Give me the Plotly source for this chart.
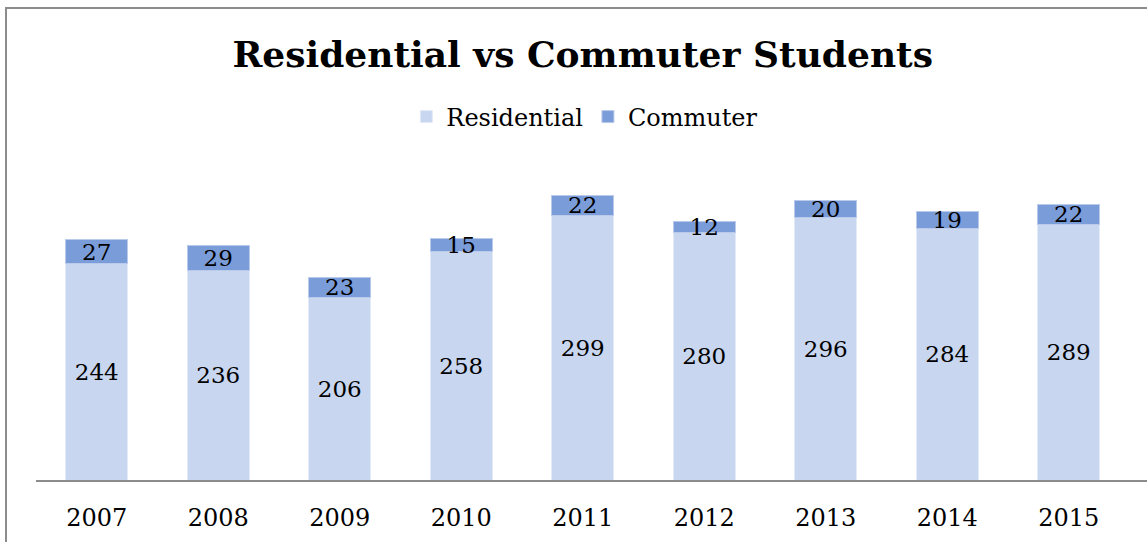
import plotly.graph_objects as go

years = ["2007", "2008", "2009", "2010", "2011", "2012", "2013", "2014", "2015"]
residential = [244, 236, 206, 258, 299, 280, 296, 284, 289]
commuter = [27, 29, 23, 15, 22, 12, 20, 19, 22]

FONT = "DejaVu Serif"

fig = go.Figure()
fig.add_trace(go.Bar(
    x=years, y=residential, name="Residential",
    marker=dict(color="#C8D6EF", line=dict(color="#E4EBF8", width=1)),
    text=[str(v) for v in residential], textposition="inside",
    insidetextanchor="middle", constraintext="none",
    textfont=dict(family=FONT, size=23, color="#000000"),
))
fig.add_trace(go.Bar(
    x=years, y=commuter, name="Commuter",
    marker=dict(color="#7A9CD9", line=dict(color="#B9CAEB", width=1)),
    text=[str(v) for v in commuter], textposition="inside",
    insidetextanchor="middle", constraintext="none",
    textfont=dict(family=FONT, size=23, color="#000000"),
))

fig.update_layout(
    barmode="stack",
    bargap=0.49,
    width=1147, height=542,
    margin=dict(l=36, r=0, t=170, b=62),
    paper_bgcolor="white", plot_bgcolor="white",
    font=dict(family=FONT, color="#000000"),
    title=dict(text="<b>Residential vs Commuter Students</b>",
               font=dict(family=FONT, size=36, color="#000000"),
               x=0.508, xanchor="center", y=1 - 54 / 542, yanchor="middle"),
    legend=dict(orientation="h", x=0.494, xanchor="center", traceorder="normal",
                y=1.171, yanchor="middle",
                font=dict(family=FONT, size=24, color="#000000"),
                itemwidth=30, tracegroupgap=0, bgcolor="rgba(0,0,0,0)"),
    showlegend=True,
)
fig.update_xaxes(
    type="category", range=[-0.5, -0.5 + 1111 / 121.5],
    showline=True, linecolor="#8C8C8C", linewidth=2,
    showgrid=False, ticks="", ticklabelstandoff=15,
    tickfont=dict(family=FONT, size=24, color="#000000"),
    fixedrange=True,
)
fig.update_yaxes(range=[0, 350], visible=False, showgrid=False, fixedrange=True)

# outer chart border
fig.add_shape(type="rect", xref="paper", yref="paper",
              x0=(6 - 36) / 1111, x1=1.2, y0=-0.5, y1=1 + (170 - 8) / 310,
              line=dict(color="#8C8C8C", width=2), fillcolor="rgba(0,0,0,0)",
              layer="above")

fig.write_html("out.html", config={"displayModeBar": False},
               post_script="document.body.style.margin='0';")
